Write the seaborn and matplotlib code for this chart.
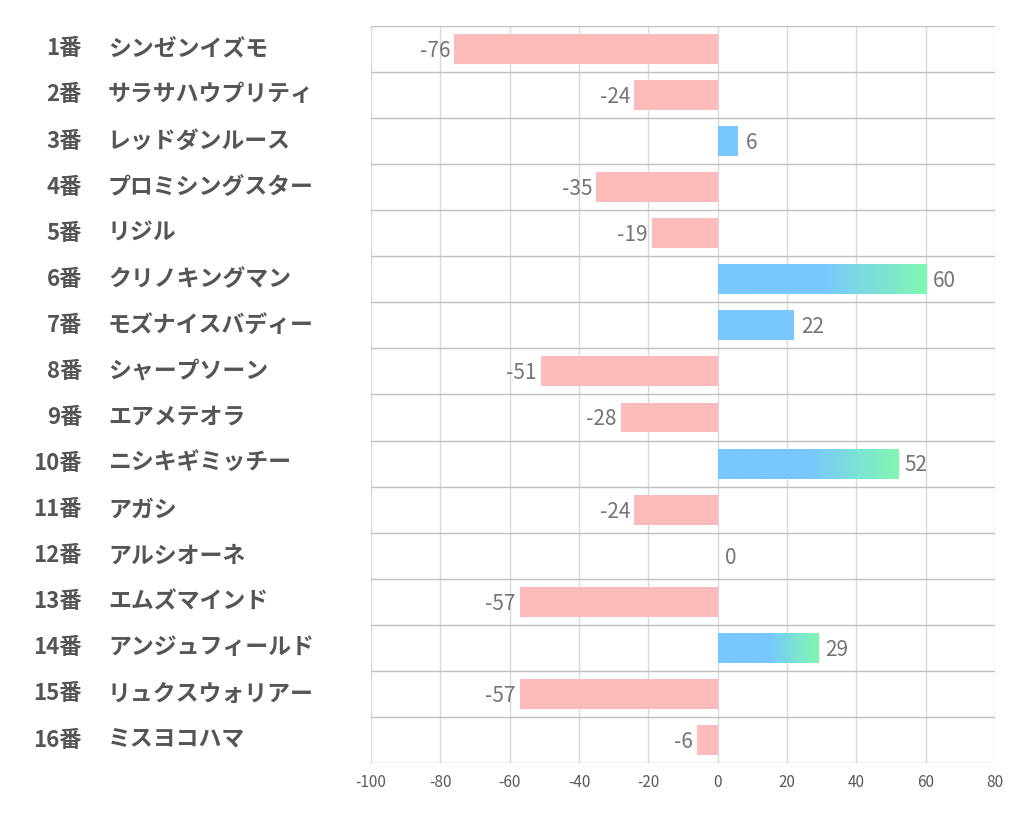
import matplotlib
matplotlib.use("Agg")
import matplotlib.pyplot as plt
from matplotlib.colors import LinearSegmentedColormap
import matplotlib.transforms as mtransforms
import numpy as np
import pandas as pd
import seaborn as sns

# Data
NUMBERS = ["1番", "2番", "3番", "4番", "5番", "6番", "7番", "8番",
           "9番", "10番", "11番", "12番", "13番", "14番", "15番", "16番"]
HORSES = ["シンゼンイズモ", "サラサハウプリティ", "レッドダンルース", "プロミシングスター",
          "リジル", "クリノキングマン", "モズナイスバディー", "シャープソーン",
          "エアメテオラ", "ニシキギミッチー", "アガシ", "アルシオーネ",
          "エムズマインド", "アンジュフィールド", "リュクスウォリアー", "ミスヨコハマ"]
VALUES = [-76, -24, 6, -35, -19, 60, 22, -51, -28, 52, -24, 0, -57, 29, -57, -6]
X_TICKS = [-100, -80, -60, -40, -20, 0, 20, 40, 60, 80]

PINK = "#FFBBBB"
BLUE = "#78C8FF"
GREEN = "#80F7B0"
LABEL_GRAY = "#757575"
NAME_GRAY = "#555555"

sns.set_theme(style="white")
plt.rcParams["font.family"] = ["Noto Sans CJK JP", "DejaVu Sans"]

df = pd.DataFrame({"horse": HORSES, "value": VALUES})
df["sign"] = np.where(df["value"] >= 0, "pos", "neg")

fig = plt.figure(figsize=(10.22, 8.34), dpi=100)
ax = fig.add_axes([0.363, 0.085, 0.6106, 0.884])

sns.barplot(data=df, x="value", y="horse", hue="sign", orient="h",
            palette={"pos": BLUE, "neg": PINK}, width=0.65,
            dodge=False, legend=False, saturation=1, linewidth=0, ax=ax)

# gradient fill on the three longest positive bars (blue, then blue -> green on outer half)
grad_cmap = LinearSegmentedColormap.from_list("bg", [(0, BLUE), (0.5, BLUE), (1, GREEN)])
top_pos = sorted([v for v in VALUES if v > 0], reverse=True)[:3]
grad = np.linspace(0, 1, 512).reshape(1, -1)
for i, v in enumerate(VALUES):
    if v > 0 and v in top_pos:
        ax.imshow(grad, cmap=grad_cmap, aspect="auto", interpolation="bilinear",
                  extent=[0, v, i + 0.325, i - 0.325], zorder=3)

ax.set_xlim(-100, 80)
ax.set_ylim(len(VALUES) - 0.5, -0.5)
ax.set_xticks(X_TICKS)
ax.set_xticklabels([str(t) for t in X_TICKS], fontsize=11, color="#595959")
ax.tick_params(axis="x", length=0, pad=8)
ax.set_yticks([])
ax.set_xlabel("")
ax.set_ylabel("")

# grid: vertical light lines, row separators
for t in X_TICKS:
    ax.axvline(t, color="#D9D9D9", lw=1, zorder=0)
for k in range(len(VALUES) + 1):
    ax.axhline(k - 0.5, color="#BFBFBF", lw=1, zorder=0)
for s in ax.spines.values():
    s.set_visible(False)

# value labels
for i, v in enumerate(VALUES):
    if v < 0:
        ax.text(v - 1.2, i + 0.04, str(v), ha="right", va="center",
                fontsize=15, color=LABEL_GRAY, zorder=5)
    else:
        ax.text(v + 2.0, i + 0.04, str(v), ha="left", va="center",
                fontsize=15, color=LABEL_GRAY, zorder=5)

# row labels outside the axes
trans = mtransforms.blended_transform_factory(fig.transFigure, ax.transData)
for i, (num, name) in enumerate(zip(NUMBERS, HORSES)):
    ax.text(82 / 1022, i, num, transform=trans, ha="right", va="center",
            fontsize=16, fontweight="bold", color=NAME_GRAY)
    ax.text(108 / 1022, i, name, transform=trans, ha="left", va="center",
            fontsize=16.5, fontweight="bold", color=NAME_GRAY)

fig.savefig("out.png", dpi=100)
plt.close(fig)
